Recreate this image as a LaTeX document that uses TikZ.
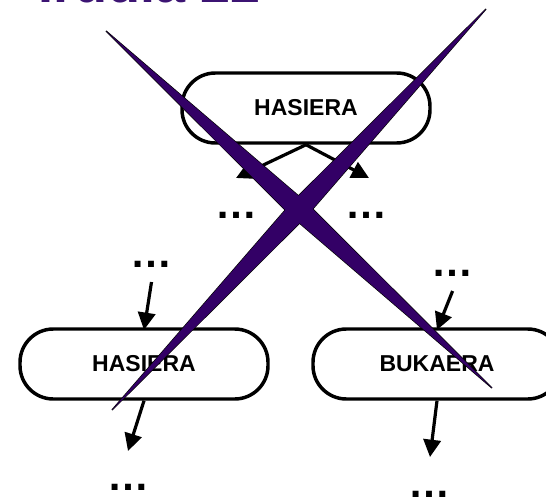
\documentclass[tikz,border=0pt]{standalone}
\usepackage{fontspec}
\setmainfont{Liberation Sans}
\usetikzlibrary{arrows.meta,calc}
\definecolor{xpurple}{RGB}{51,0,102}
\definecolor{titlepurple}{RGB}{60,20,115}
\begin{document}
\begin{tikzpicture}[x=0.75pt,y=-0.75pt,
  box/.style={draw=black,line width=2.6pt,rounded corners=25pt,minimum width=186pt,minimum height=52.5pt,inner sep=0pt,font=\fontsize{17.25}{20}\selectfont\bfseries},
  dots/.style={inner sep=0pt,anchor=base,font=\fontsize{31.5}{34}\selectfont\bfseries},
  flow/.style={line width=2.4pt,-{Triangle[length=13pt,width=13pt]}},
  xline/.style={draw=black,line width=1pt,line join=miter},
  xfill/.style={fill=xpurple},
  title/.style={inner sep=0pt,anchor=base east,text=titlepurple,font=\fontsize{40.5}{44}\selectfont\bfseries}]
\clip (0,0) rectangle (546,499);
\node[title] (ttl) at (261,2.2) {Irudia 22};
\node[box] (top) at (306,108) {HASIERA};
\node[box] (bl) at (144,364) {HASIERA};
\node[box] (br) at (437,364) {BUKAERA};
\node[dots] (d1) at (236,219) {…};
\node[dots] (d2) at (366.5,219) {…};
\node[dots] (d3) at (151.5,267) {…};
\node[dots] (d4) at (452.5,276) {…};
\node[dots] (d5) at (128,490) {…};
\node[dots] (d6) at (429.5,497) {…};
\coordinate (t1) at (236,178);
\coordinate (t2) at (369,178);
\coordinate (s3) at (151.5,282);
\coordinate (s4) at (452.6,291);
\coordinate (t5) at (128,451);
\coordinate (t6) at (430,457);
\draw[flow] (top.south) -- (t1);
\draw[flow] (top.south) -- (t2);
\draw[flow] (s3) -- ([yshift=-2pt]bl.north);
\draw[flow] (s4) -- ([yshift=-2pt]br.north);
\draw[flow] (bl.south) -- (t5);
\draw[flow] (br.south) -- (t6);
% crossing strokes
\coordinate (a1) at (106,31);
\coordinate (a2) at (492,388);
\coordinate (b1) at (486,9);
\coordinate (b2) at (112,410);
\coordinate (am) at ($(a1)!0.5!(a2)$);
\coordinate (bm) at ($(b1)!0.5!(b2)$);
\coordinate (ap) at ($(am)!7.5pt!90:(a2)$);
\coordinate (aq) at ($(am)!7.5pt!-90:(a2)$);
\coordinate (bp) at ($(bm)!7.5pt!90:(b2)$);
\coordinate (bq) at ($(bm)!7.5pt!-90:(b2)$);
\path[xline] (a1) -- (ap) -- (a2) -- (aq) -- cycle;
\path[xline] (b1) -- (bp) -- (b2) -- (bq) -- cycle;
\path[xfill] (a1) -- (ap) -- (a2) -- (aq) -- cycle;
\path[xfill] (b1) -- (bp) -- (b2) -- (bq) -- cycle;
\end{tikzpicture}
\end{document}
